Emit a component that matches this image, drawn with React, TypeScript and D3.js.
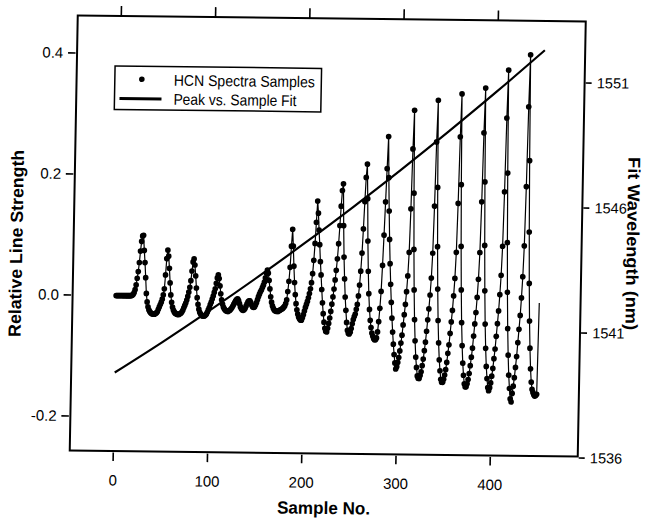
import * as d3 from "d3";

// HCN spectra: relative line strength, one reading per sample no. (starting at 0)
const lineStrength: number[] = [
  0, 0, 0, 0, 0, 0, 0, 0, 0, 0,
  0, 0, 0, 0, 0, 0, 0, 0.001, 0.002, 0.005,
  0.01, 0.018, 0.029, 0.04, 0.055, 0.074, 0.09, 0.099, 0.1, 0.075,
  0.055, 0.03, 0.004, -0.01, -0.018, -0.023, -0.026, -0.028, -0.029, -0.03,
  -0.03, -0.03, -0.029, -0.028, -0.026, -0.022, -0.018, -0.014, -0.01, -0.005,
  0.002, 0.012, 0.035, 0.062, 0.076, 0.066, 0.046, 0.022, 0.002, -0.01,
  -0.018, -0.023, -0.026, -0.028, -0.029, -0.03, -0.03, -0.03, -0.029, -0.028,
  -0.026, -0.023, -0.019, -0.015, -0.011, -0.006, 0.0, 0.007, 0.015, 0.026,
  0.042, 0.057, 0.062, 0.052, 0.034, 0.014, -0.002, -0.013, -0.021, -0.026,
  -0.029, -0.031, -0.032, -0.032, -0.032, -0.031, -0.029, -0.026, -0.022, -0.018,
  -0.013, -0.009, -0.004, 0.001, 0.007, 0.013, 0.022, 0.031, 0.036, 0.03,
  0.018, 0.005, -0.005, -0.012, -0.017, -0.02, -0.022, -0.023, -0.024, -0.024,
  -0.023, -0.022, -0.02, -0.018, -0.015, -0.012, -0.009, -0.006, -0.004, -0.003,
  -0.006, -0.011, -0.016, -0.019, -0.021, -0.022, -0.021, -0.019, -0.015, -0.011,
  -0.008, -0.006, -0.006, -0.009, -0.013, -0.016, -0.017, -0.016, -0.013, -0.009,
  -0.004, 0.001, 0.005, 0.009, 0.012, 0.016, 0.02, 0.025, 0.032, 0.04,
  0.045, 0.04, 0.028, 0.014, 0.001, -0.008, -0.014, -0.018, -0.021, -0.022,
  -0.023, -0.023, -0.023, -0.022, -0.021, -0.02, -0.019, -0.018, -0.016, -0.014,
  -0.01, -0.004, 0.01, 0.027, 0.05, 0.085, 0.113, 0.085, 0.052, 0.025,
  0.005, -0.01, -0.02, -0.027, -0.032, -0.035, -0.037, -0.037, -0.033, -0.028,
  -0.022, -0.016, -0.011, -0.006, 0.0, 0.007, 0.015, 0.025, 0.04, 0.062,
  0.09, 0.125, 0.16, 0.14, 0.112, 0.088, 0.06, 0.038, 0.014, -0.008,
  -0.026, -0.04, -0.05, -0.055, -0.056, -0.05, -0.042, -0.033, -0.022, -0.01,
  0.002, 0.015, 0.03, 0.046, 0.065, 0.09, 0.12, 0.152, 0.178, 0.189,
  0.12, 0.068, 0.032, 0.002, -0.02, -0.04, -0.053, -0.058, -0.059, -0.056,
  -0.05, -0.042, -0.035, -0.03, -0.026, -0.018, -0.01, 0.004, 0.022, 0.045,
  0.075, 0.115, 0.16, 0.2, 0.222, 0.165, 0.095, 0.045, 0.008, -0.018,
  -0.036, -0.048, -0.057, -0.062, -0.066, -0.068, -0.068, -0.065, -0.055, -0.038,
  -0.016, 0.012, 0.055, 0.105, 0.16, 0.215, 0.268, 0.2, 0.145, 0.098,
  0.058, 0.024, -0.006, -0.032, -0.055, -0.075, -0.092, -0.106, -0.116, -0.112,
  -0.105, -0.097, -0.086, -0.073, -0.06, -0.043, -0.026, -0.009, 0.012, 0.038,
  0.077, 0.149, 0.248, 0.312, 0.175, 0.082, 0.015, -0.034, -0.069, -0.096,
  -0.113, -0.127, -0.131, -0.131, -0.126, -0.12, -0.11, -0.099, -0.085, -0.071,
  -0.053, -0.034, -0.016, 0.007, 0.035, 0.076, 0.154, 0.26, 0.329, 0.185,
  0.087, 0.017, -0.035, -0.072, -0.1, -0.118, -0.132, -0.137, -0.137, -0.132,
  -0.125, -0.116, -0.104, -0.089, -0.075, -0.056, -0.037, -0.018, 0.006, 0.035,
  0.078, 0.159, 0.269, 0.34, 0.19, 0.088, 0.016, -0.038, -0.076, -0.105,
  -0.125, -0.139, -0.144, -0.144, -0.139, -0.132, -0.122, -0.109, -0.095, -0.08,
  -0.06, -0.04, -0.021, 0.004, 0.034, 0.078, 0.162, 0.276, 0.35, 0.195,
  0.09, 0.015, -0.04, -0.08, -0.11, -0.13, -0.145, -0.15, -0.145, -0.137,
  -0.126, -0.113, -0.097, -0.081, -0.06, -0.039, -0.018, 0.009, 0.041, 0.089,
  0.179, 0.301, 0.38, 0.21, 0.095, 0.013, -0.047, -0.091, -0.124, -0.146,
  -0.163, -0.168, -0.154, -0.142, -0.128, -0.111, -0.093, -0.07, -0.048, -0.025,
  0.004, 0.039, 0.09, 0.188, 0.32, 0.406, 0.231, 0.113, 0.028, -0.034,
  -0.079, -0.113, -0.135, -0.147, -0.152, -0.156, -0.158, -0.157, -0.155, -0.004,
];

// peak vs. sample fit, right axis (nm)
const fitSample = [0, 50, 100, 150, 200, 250, 300, 350, 400, 450];
const fitWavelength = [1539.2, 1540.44, 1541.74, 1543.09, 1544.49, 1545.94, 1547.45, 1549.01, 1550.62, 1552.29];

const sampleTicks = [0, 100, 200, 300, 400];
const strengthTicks = [-0.2, 0.0, 0.2, 0.4];
const wavelengthTicks = [1536, 1541, 1546, 1551];
const legendLabels = ["HCN Spectra Samples", "Peak vs. Sample Fit"];

const W = 647;
const H = 521;
const plot = { left: 73.75, right: 581.75, top: 18.5, bottom: 453.5 };
const font = "'Liberation Sans', Arial, Helvetica, sans-serif";
// the source figure is a slightly skewed scan
const scanSkew = "matrix(1 0.0118 -0.0184 1 4.34 -3.87)";

export default function App() {
  const x = d3.scaleLinear().domain([-46.2, 492.8]).range([plot.left, plot.right]);
  const y = d3.scaleLinear().domain([-0.257, 0.462]).range([plot.bottom, plot.top]);
  const yR = d3.scaleLinear().domain([1536.06, 1553.46]).range([plot.bottom, plot.top]);

  const pts = lineStrength.map((v, i) => [i, v] as [number, number]);
  const dataPath = d3
    .line<[number, number]>()
    .x((d) => x(d[0]))
    .y((d) => y(d[1]))(pts);

  const fitPts = fitSample.map((s, i) => [s, fitWavelength[i]] as [number, number]);
  const fitPath = d3
    .line<[number, number]>()
    .x((d) => x(d[0]))
    .y((d) => yR(d[1]))
    .curve(d3.curveMonotoneX)(fitPts);

  return (
    <svg
      width={W}
      height={H}
      style={{ position: "absolute", left: 0, top: 0, background: "#fff" }}
      fontFamily={font}
    >
      <rect width={W} height={H} fill="#fff" />
      <g transform={scanSkew}>
        {/* frame */}
        <rect
          x={plot.left}
          y={plot.top}
          width={plot.right - plot.left}
          height={plot.bottom - plot.top}
          fill="none"
          stroke="#000"
          strokeWidth={2}
        />

        {/* bottom + top ticks */}
        {sampleTicks.map((t) => (
          <g key={"s" + t}>
            <line x1={x(t)} x2={x(t)} y1={plot.bottom + 1.5} y2={plot.bottom + 10} stroke="#000" strokeWidth={1.6} />
            <line x1={x(t)} x2={x(t)} y1={plot.top} y2={plot.top - 10} stroke="#000" strokeWidth={1.6} />
            <text x={x(t)} y={488} fontSize={15} textAnchor="middle" fill="#000">
              {t}
            </text>
          </g>
        ))}

        {/* left axis */}
        {strengthTicks.map((t) => (
          <g key={"l" + t}>
            <line x1={plot.left - 1.5} x2={plot.left - 9} y1={y(t)} y2={y(t)} stroke="#000" strokeWidth={1.6} />
            <text x={60} y={y(t) + 5} fontSize={15} textAnchor="end" fill="#000">
              {t.toFixed(1)}
            </text>
          </g>
        ))}

        {/* right axis */}
        {wavelengthTicks.map((t) => (
          <g key={"r" + t}>
            <line x1={plot.right + 1} x2={plot.right + 7} y1={yR(t)} y2={yR(t)} stroke="#000" strokeWidth={1.6} />
            <text x={594} y={yR(t) + 5} fontSize={14.5} textAnchor="start" fill="#000">
              {t}
            </text>
          </g>
        ))}

        {/* samples */}
        <path d={dataPath ?? ""} fill="none" stroke="#000" strokeWidth={1.2} />
        {pts.slice(0, -1).map((d) => (
          <circle key={d[0]} cx={x(d[0])} cy={y(d[1])} r={2.85} fill="#000" />
        ))}

        {/* fit */}
        <path d={fitPath ?? ""} fill="none" stroke="#000" strokeWidth={2.2} />

        {/* legend */}
        <rect x={112} y={68.5} width={206.5} height={43.5} fill="#fff" stroke="#000" strokeWidth={1.5} />
        <circle cx={139} cy={81.5} r={2.8} fill="#000" />
        <line x1={117} x2={159} y1={101} y2={101} stroke="#000" strokeWidth={3.2} />
        <text x={171} y={87.5} fontSize={15.5} textLength={141} lengthAdjust="spacingAndGlyphs" fill="#000">
          {legendLabels[0]}
        </text>
        <text x={171} y={106.5} fontSize={15.5} textLength={123} lengthAdjust="spacingAndGlyphs" fill="#000">
          {legendLabels[1]}
        </text>

        {/* axis titles */}
        <text x={328.6} y={514} fontSize={17.5} fontWeight="bold" textAnchor="middle" textLength={93} lengthAdjust="spacingAndGlyphs">
          Sample No.
        </text>
        <text
          transform="translate(22.5,247) rotate(-90)"
          fontSize={17.5}
          fontWeight="bold"
          textAnchor="middle"
          textLength={187}
          lengthAdjust="spacingAndGlyphs"
        >
          Relative Line Strength
        </text>
        <text
          transform="translate(627,240) rotate(90)"
          fontSize={17}
          fontWeight="bold"
          textAnchor="middle"
          textLength={173}
          lengthAdjust="spacingAndGlyphs"
        >
          Fit Wavelength (nm)
        </text>
      </g>
    </svg>
  );
}
